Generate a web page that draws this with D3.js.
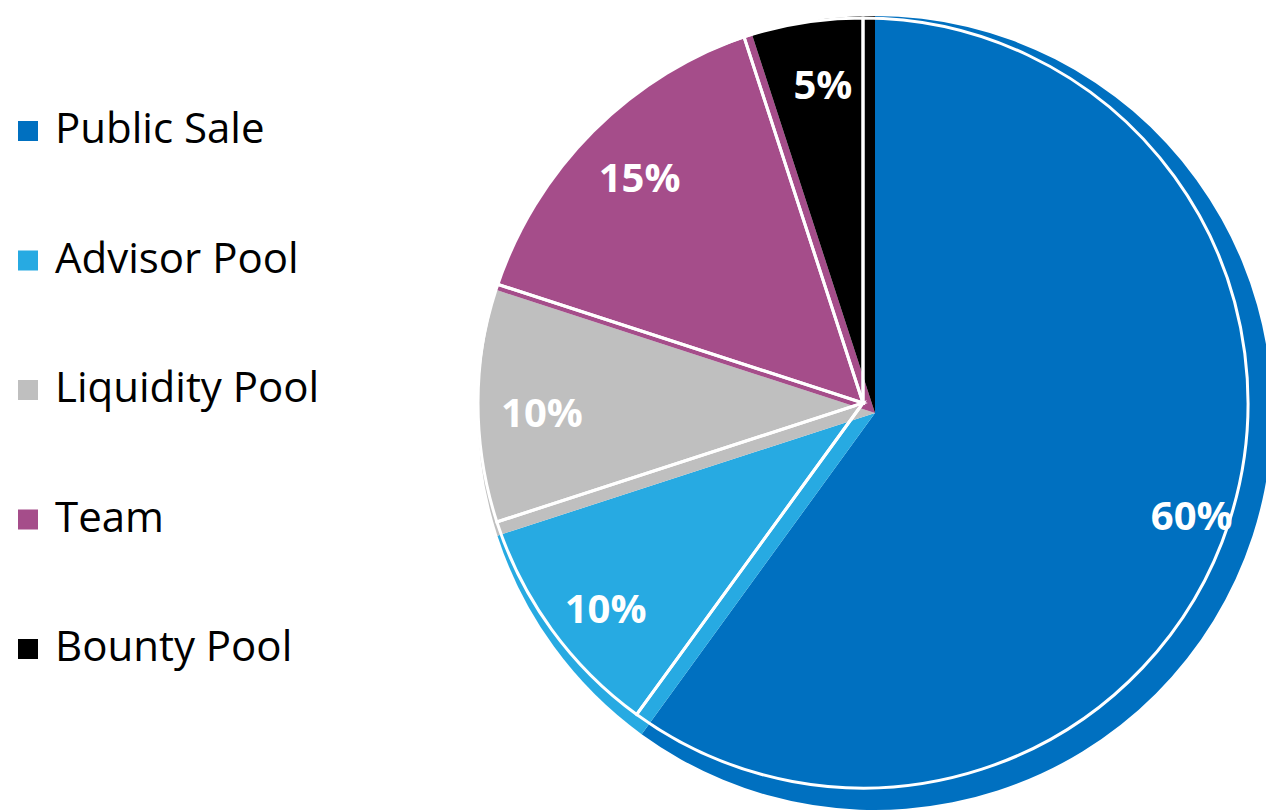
<!DOCTYPE html>
<html>
<head>
<meta charset="utf-8">
<script src="https://cdn.jsdelivr.net/npm/d3@7"></script>
<style>
  body { margin: 0; background: #fff; }
  svg { display: block; }
  .legend text { font-family: "Open Sans", sans-serif; font-size: 42px; fill: #000; }
  .pct { font-family: "Open Sans", sans-serif; font-weight: 700; font-size: 40px; fill: #fff; }
</style>
</head>
<body>
<svg width="1266" height="811"></svg>
<script>
const categories = ['Public Sale', 'Advisor Pool', 'Liquidity Pool', 'Team', 'Bounty Pool'];
const shares = [60, 10, 10, 15, 5];
const labels = ['60%', '10%', '10%', '15%', '5%'];
const colors = ['#0070C0', '#27AAE2', '#BFBFBF', '#A54D8A', '#000000'];

const data = categories.map((c, i) => ({ name: c, value: shares[i], label: labels[i] }));

const svg = d3.select('svg');

const color = d3.scaleOrdinal()
    .domain(categories)
    .range(colors);

const pie = d3.pie()
    .sort(null)
    .value((d) => d.value);

const arcs = pie(data);

// filled pie
const fillArc = d3.arc().innerRadius(0).outerRadius(397);
const back = svg.append('g')
    .attr('transform', 'translate(875, 413)');

back.selectAll('path')
    .data(arcs)
    .enter()
    .append('path')
    .attr('d', fillArc)
    .attr('fill', (d) => color(d.data.name));

// white outlines, offset up-left (the bevel look)
const outlineArc = d3.arc().innerRadius(0).outerRadius(385);
svg.append('g')
    .attr('transform', 'translate(863, 403)')
    .selectAll('path')
    .data(arcs)
    .enter()
    .append('path')
    .attr('d', outlineArc)
    .attr('fill', 'none')
    .attr('stroke', '#fff')
    .attr('stroke-width', 3)
    .attr('stroke-linejoin', 'miter');

const labelArc = d3.arc().innerRadius(333).outerRadius(333);
back.selectAll('text')
    .data(arcs)
    .enter()
    .append('text')
    .attr('class', 'pct')
    .attr('transform', (d) => `translate(${labelArc.centroid(d)})`)
    .attr('text-anchor', 'middle')
    .attr('dy', '0.36em')
    .text((d) => d.data.label);

// legend
const legendY = d3.scalePoint()
    .domain(categories)
    .range([131, 649]);

const legend = svg.append('g')
    .attr('class', 'legend')
    .selectAll('g')
    .data(categories)
    .enter()
    .append('g')
    .attr('transform', (d) => `translate(0, ${legendY(d)})`);

legend.append('rect')
    .attr('x', 18)
    .attr('y', -10)
    .attr('width', 20)
    .attr('height', 20)
    .attr('fill', (d) => color(d));

legend.append('text')
    .attr('x', 55)
    .attr('y', 12)
    .text((d) => d);
</script>
</body>
</html>
